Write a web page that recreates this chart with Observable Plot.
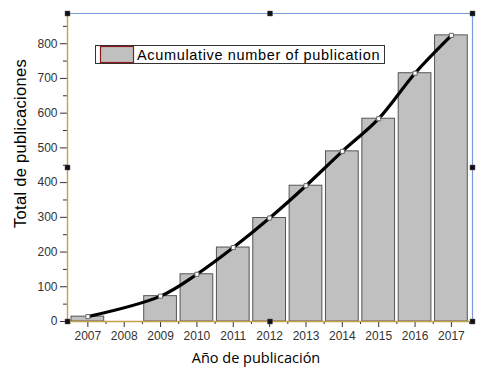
<!DOCTYPE html>
<html>
<head>
<meta charset="utf-8">
<script src="https://cdn.jsdelivr.net/npm/d3@7"></script>
<script src="https://cdn.jsdelivr.net/npm/@observablehq/plot@0.6"></script>
<style>
  html, body { margin: 0; padding: 0; background: #fff; }
  #chart { width: 493px; height: 371px; }
</style>
</head>
<body>
<div id="chart"></div>
<script>
// ---- data ----
const years = [2007, 2008, 2009, 2010, 2011, 2012, 2013, 2014, 2015, 2016, 2017];
const totals = [14, 0, 73, 136, 213, 298, 391, 490, 584, 715, 824];
const yTicks = [0, 100, 200, 300, 400, 500, 600, 700, 800];
const yMinorTicks = [50, 150, 250, 350, 450, 550, 650, 750, 850];
const xTicks = years;
const xMinorTicks = [2006.5, 2007.5, 2008.5, 2009.5, 2010.5, 2011.5, 2012.5, 2013.5, 2014.5, 2015.5, 2016.5, 2017.5];
const xDomain = [2006.44, 2017.58];
const yDomain = [0, 887];
const legendLabel = "Acumulative number of publication";
const xTitle = "Año de publicación";
const yTitle = "Total de publicaciones";

const data = years.map((year, i) => ({year, value: totals[i]}));
const shown = data.filter(d => d.value > 0);
const xMid = (xDomain[0] + xDomain[1]) / 2;
const handles = [
  {x: xDomain[0], y: yDomain[1]}, {x: xMid, y: yDomain[1]}, {x: xDomain[1], y: yDomain[1]},
  {x: xDomain[0], y: yDomain[1] / 2}, {x: xDomain[1], y: yDomain[1] / 2},
  {x: xDomain[0], y: yDomain[0]}, {x: xMid, y: yDomain[0]}, {x: xDomain[1], y: yDomain[0]}
];

const plot = Plot.plot({
  width: 493,
  height: 371,
  marginLeft: 67,
  marginRight: 21,
  marginTop: 13,
  marginBottom: 50,
  style: {fontFamily: "'Liberation Sans', Arial, sans-serif", fontSize: "12px", color: "#333", background: "#fff"},
  x: {domain: xDomain, label: null},
  y: {domain: yDomain, label: null},
  marks: [
    Plot.rectY(shown, {x1: d => d.year - 0.45, x2: d => d.year + 0.45, y: "value", fill: "#c0c0c0", stroke: "#555", strokeWidth: 1}),
    Plot.line(shown, {x: "year", y: "value", curve: "catmull-rom", stroke: "#000", strokeWidth: 3.2}),
    Plot.dot(shown, {x: "year", y: "value", symbol: "square", r: 2.3, fill: "#fff", stroke: "#666", strokeWidth: 1}),
    Plot.axisY({ticks: yTicks, tickSize: 7, tickPadding: 3, tickFormat: d => String(d), fill: "#333", stroke: "#333", label: null}),
    Plot.axisY({ticks: yMinorTicks, tickSize: 4, text: null, stroke: "#333", label: null}),
    Plot.axisX({ticks: xTicks, tickSize: 6, tickPadding: 4, tickFormat: d => String(d), fill: "#333", stroke: "#333", label: null}),
    Plot.axisX({ticks: xMinorTicks, tickSize: 3, text: null, stroke: "#333", label: null}),
    Plot.ruleY([yDomain[1]], {stroke: "#7b9bd8", strokeWidth: 1.2}),
    Plot.ruleX([xDomain[1]], {stroke: "#7b9bd8", strokeWidth: 1.2}),
    Plot.ruleX([xDomain[0]], {stroke: "#c8a04a", strokeWidth: 1.4}),
    Plot.ruleY([yDomain[0]], {stroke: "#c8a04a", strokeWidth: 1.4}),
    Plot.dot(handles, {x: "x", y: "y", symbol: "square", r: 2.8, fill: "#111", stroke: "#555", strokeWidth: 0.5})
  ]
});

const svg = d3.select(plot);
// legend box
const lg = svg.append("g");
lg.append("rect").attr("x", 95.5).attr("y", 45.5).attr("width", 289).attr("height", 18)
  .attr("fill", "#fff").attr("stroke", "#333").attr("stroke-width", 1);
lg.append("rect").attr("x", 100.5).attr("y", 46.5).attr("width", 33).attr("height", 16)
  .attr("fill", "#c0c0c0").attr("stroke", "#8b1a1a").attr("stroke-width", 1.2);
lg.append("text").attr("x", 137).attr("y", 59.5).attr("text-anchor", "start").attr("font-size", 14.5)
  .attr("letter-spacing", 0.65)
  .attr("font-family", "'Liberation Sans', Arial, sans-serif").attr("fill", "#000").text(legendLabel);
// axis titles
svg.append("text").attr("transform", "translate(26,143.5) rotate(-90)").attr("text-anchor", "middle")
  .attr("font-size", 16.5).attr("letter-spacing", 0.3)
  .attr("font-family", "'Liberation Sans', Arial, sans-serif").attr("fill", "#000").text(yTitle);
svg.append("text").attr("x", 256).attr("y", 363).attr("text-anchor", "middle")
  .attr("font-size", 14.5).attr("font-family", "'Open Sans', sans-serif").attr("fill", "#000").text(xTitle);

document.getElementById("chart").appendChild(plot);
</script>
</body>
</html>
